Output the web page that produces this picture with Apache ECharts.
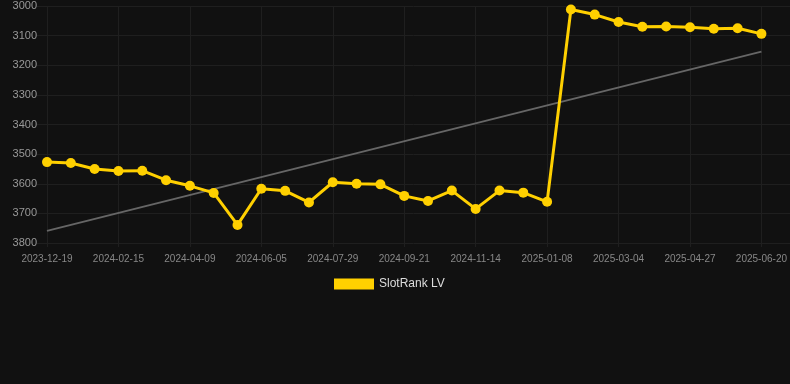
<!DOCTYPE html>
<html>
<head>
<meta charset="utf-8">
<script src="https://cdn.jsdelivr.net/npm/echarts@6/dist/echarts.min.js"></script>
<style>
    html, body { margin: 0; padding: 0; background: #111111; }
    #chart { width: 790px; height: 384px; }
</style>
</head>
<body>
<div id="chart"></div>
<script>
// dates on the x axis (every third one is labelled)
const dates = [
    "2023-12-19", "2024-01-06", "2024-01-25", "2024-02-15", "2024-03-03", "2024-03-21",
    "2024-04-09", "2024-04-28", "2024-05-17", "2024-06-05", "2024-06-23", "2024-07-11",
    "2024-07-29", "2024-08-16", "2024-09-03", "2024-09-21", "2024-10-09", "2024-10-27",
    "2024-11-14", "2024-12-02", "2024-12-20", "2025-01-08", "2025-01-26", "2025-02-14",
    "2025-03-04", "2025-03-22", "2025-04-09", "2025-04-27", "2025-05-15", "2025-06-02",
    "2025-06-20"
];

// rank values
const rankLV = [
    3527, 3530, 3550, 3557, 3556, 3588, 3607, 3631, 3739, 3617, 3624,
    3663, 3595, 3600, 3602, 3641, 3658, 3623, 3685, 3623, 3630, 3661,
    3012, 3029, 3054, 3070, 3069, 3072, 3077, 3075, 3094
];

// trend line end points
const trendStart = 3759;
const trendEnd = 3154;

const trendData = dates.map(function (d, i) {
    if (i === 0) return trendStart;
    if (i === dates.length - 1) return trendEnd;
    return null;
});

const gridColor = "#1f1f1f";
const font = "Liberation Sans, Arial, sans-serif";

let chart = echarts.init(document.getElementById("chart"), null, { renderer: "canvas" });

chart.setOption({
    backgroundColor: "#111111",
    animation: false,
    // grid 0 holds the data, grid 1 only draws the wider horizontal lines
    grid: [
        { left: 47, right: 28, top: 6, bottom: 141 },
        { left: 37, right: 0, top: 6, bottom: 141 }
    ],
    legend: {
        top: 273,
        left: 329,
        itemWidth: 40,
        itemHeight: 11,
        itemGap: 10,
        icon: "rect",
        data: ["SlotRank LV"],
        textStyle: { color: "#dddddd", fontSize: 12, fontFamily: font }
    },
    xAxis: [
        {
            type: "category",
            gridIndex: 0,
            data: dates,
            boundaryGap: false,
            axisLine: { show: false },
            axisTick: {
                show: true,
                interval: 2,
                length: 4,
                lineStyle: { color: gridColor }
            },
            axisLabel: {
                interval: 2,
                color: "#888888",
                fontSize: 10,
                margin: 11,
                fontFamily: font
            },
            splitLine: {
                show: true,
                interval: 2,
                lineStyle: { color: gridColor, width: 1 }
            }
        },
        {
            type: "category",
            gridIndex: 1,
            data: dates,
            show: false
        }
    ],
    yAxis: [
        {
            type: "value",
            gridIndex: 0,
            inverse: true,
            min: 3000,
            max: 3800,
            interval: 100,
            axisLine: { show: false },
            axisTick: { show: false },
            axisLabel: {
                color: "#999999",
                fontSize: 11,
                margin: 10,
                fontFamily: font,
                formatter: function (v) { return String(v); }
            },
            splitLine: { show: false }
        },
        {
            type: "value",
            gridIndex: 1,
            inverse: true,
            min: 3000,
            max: 3800,
            interval: 100,
            axisLine: { show: false },
            axisTick: { show: false },
            axisLabel: { show: false },
            splitLine: { lineStyle: { color: gridColor, width: 1 } }
        }
    ],
    series: [
        {
            name: "SlotRank LV",
            type: "line",
            data: rankLV,
            symbol: "circle",
            symbolSize: 10,
            itemStyle: { color: "#FFD000" },
            lineStyle: { color: "#FFD000", width: 3 },
            z: 3
        },
        {
            name: "trend",
            type: "line",
            data: trendData,
            connectNulls: true,
            symbol: "none",
            lineStyle: { color: "#666666", width: 2 },
            z: 2
        }
    ]
});
</script>
</body>
</html>
